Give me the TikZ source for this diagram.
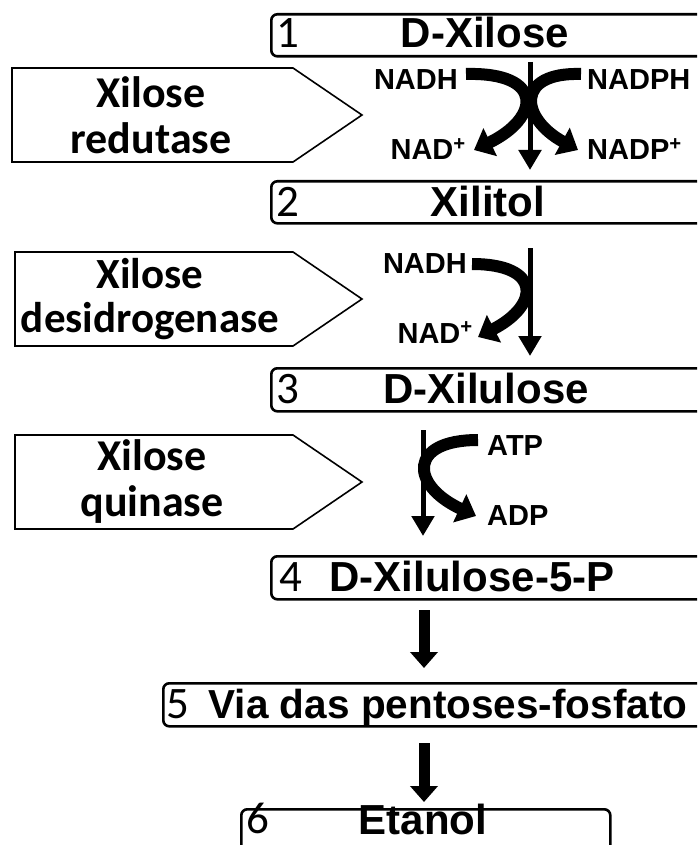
\documentclass[tikz,border=0pt]{standalone}
\usepackage{fontspec}
\setmainfont{Liberation Sans}
\newfontfamily\calib{Carlito}
\usetikzlibrary{arrows.meta}
\begin{document}
\begin{tikzpicture}[x=1pt,y=-1pt,
  box/.style={draw,line width=2.6pt,rounded corners=6pt,inner sep=0pt,anchor=north west},
  penta/.style={draw,line width=1.6pt,line join=miter},
  title/.style={font=\bfseries\fontsize{42}{42}\selectfont,anchor=base,inner sep=0pt},
  num/.style={font=\calib\fontsize{45}{45}\selectfont,anchor=base west,inner sep=0pt},
  enz/.style={font=\calib\bfseries\fontsize{44}{46}\selectfont,align=center,inner sep=0pt},
  cof/.style={font=\bfseries\fontsize{29}{29}\selectfont,inner sep=0pt},
  thinarr/.style={line width=5pt,-{Triangle[length=20pt,width=22pt]}},
  curvarr/.style={line width=12pt,-{Triangle[length=18pt,width=30pt]}},
  bigarr/.style={line width=11pt,-{Triangle[length=16pt,width=27pt]}}]
\useasboundingbox (0,0) rectangle (697,845);
\clip (0,0) rectangle (697,845);

% boxes
\node[box,minimum width=444pt,minimum height=42pt] (b1) at (270,13) {};
\node[box,minimum width=444pt,minimum height=42pt] (b2) at (270,180) {};
\node[box,minimum width=444pt,minimum height=43pt] (b3) at (270,367) {};
\node[box,minimum width=444pt,minimum height=43pt] (b4) at (270,555) {};
\node[box,minimum width=550pt,minimum height=43pt] (b5) at (162,682) {};
\node[box,minimum width=369pt,minimum height=52pt] (b6) at (240,808) {};

\node[num] (n1) at (276,48) {1};
\node[title] (t1) at (485,48) {D-Xilose};
\node[num] (n2) at (276,216) {2};
\node[title] (t2) at (488,216) {Xilitol};
\node[num] (n3) at (276,403) {3};
\node[title] (t3) at (486,403) {D-Xilulose};
\node[num] (n4) at (279,591) {4};
\node[title] (t4) at (472,591) {D-Xilulose-5-P};
\node[num] (n5) at (166,718) {5};
\node[title,font=\bfseries\fontsize{40.5}{41}\selectfont] (t5) at (448,718) {Via das pentoses-fosfato};
\node[num] (n6) at (246,833) {6};
\node[title] (t6) at (423,834) {Etanol};

% enzyme pentagons
\draw[penta] (12,68) -- (293,68) -- (362,115) -- (293,162) -- (12,162) -- cycle;
\node[enz] (e1) at (151,115) {Xilose\\redutase};
\draw[penta] (15,252) -- (293,252) -- (362,299) -- (293,346) -- (15,346) -- cycle;
\node[enz,font=\calib\bfseries\fontsize{43}{44}\selectfont] (e2) at (150,299) {Xilose\\desidrogenase};
\draw[penta] (15,435) -- (293,435) -- (362,482) -- (293,529) -- (15,529) -- cycle;
\node[enz] (e3) at (152,482) {Xilose\\quinase};

% cofactors
\node[cof,anchor=base east] (nadh1) at (458,90) {NADH};
\node[cof,anchor=base east] (nad1) at (466,160) {NAD\textsuperscript{+}};
\node[cof,anchor=base west] (nadph1) at (587,90) {NADPH};
\node[cof,anchor=base west] (nadp1) at (587,160) {NADP\textsuperscript{+}};
\node[cof,anchor=base east] (nadh2) at (467,273) {NADH};
\node[cof,anchor=base east] (nad2) at (473,343) {NAD\textsuperscript{+}};
\node[cof,anchor=base west] (atp3) at (487,455) {ATP};
\node[cof,anchor=base west] (adp3) at (487,525) {ADP};

% reaction 1
\coordinate (r1a) at (466,74);
\coordinate (r1b) at (474,150);
\coordinate (r1c) at (581,74);
\coordinate (r1d) at (578,150);
\draw[curvarr] (r1a) .. controls (545,72) and (540,118) .. (r1b);
\draw[curvarr] (r1c) .. controls (515,72) and (520,118) .. (r1d);
\coordinate (v1a) at (530,62);
\coordinate (v1b) at (530,170);
\draw[thinarr] (v1a) -- (v1b);

% reaction 2
\coordinate (r2a) at (472,264);
\coordinate (r2b) at (478,337);
\draw[curvarr] (r2a) .. controls (542,264) and (540,305) .. (r2b);
\coordinate (v2a) at (530,248);
\coordinate (v2b) at (530,356);
\draw[thinarr] (v2a) -- (v2b);

% reaction 3
\coordinate (r3a) at (478,440);
\coordinate (r3b) at (476,516);
\draw[curvarr] (r3a) .. controls (408,440) and (410,485) .. (r3b);
\coordinate (v3a) at (423,430);
\coordinate (v3b) at (423,536);
\draw[thinarr] (v3a) -- (v3b);

% big arrows
\coordinate (a4) at (424,610);
\coordinate (a5) at (424,668);
\draw[bigarr] (a4) -- (a5);
\coordinate (a6) at (424,743);
\coordinate (a7) at (424,802);
\draw[bigarr] (a6) -- (a7);
\end{tikzpicture}
\end{document}
